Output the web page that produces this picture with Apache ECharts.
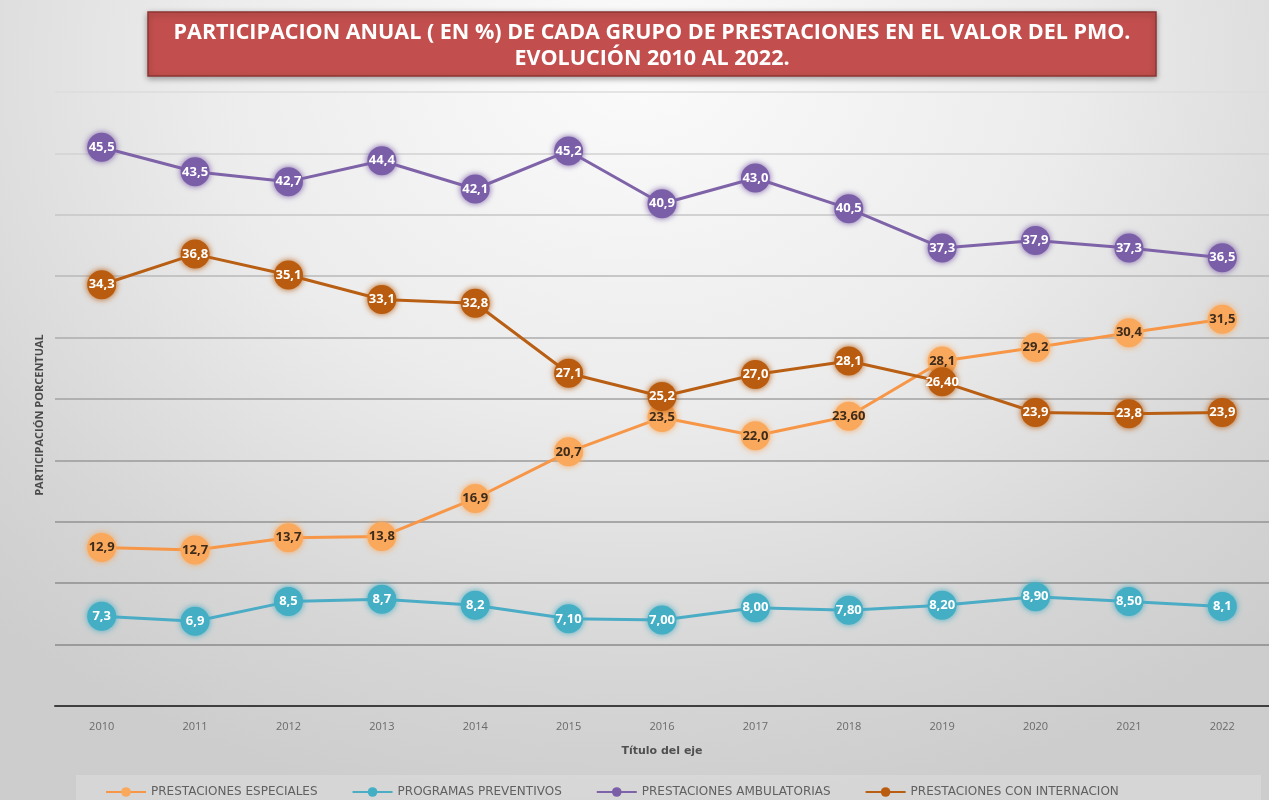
<!DOCTYPE html>
<html>
<head>
<meta charset="utf-8">
<script src="https://cdn.jsdelivr.net/npm/echarts@6/dist/echarts.min.js"></script>
<style>
  html, body { margin: 0; padding: 0; }
  body {
    width: 1269px; height: 800px; overflow: hidden;
    background: radial-gradient(ellipse 75% 95% at 50% 8%, #fbfbfb 0%, #ececec 45%, #d6d6d6 80%, #cdcdcd 100%);
  }
  #chart { width: 1269px; height: 800px; }
</style>
</head>
<body>
<div id="chart"></div>
<script>
// Years on the category axis
const years = ['2010','2011','2012','2013','2014','2015','2016','2017','2018','2019','2020','2021','2022'];

// Annual share (%) of each benefit group in the PMO value
const especiales   = [12.9, 12.7, 13.7, 13.8, 16.9, 20.7, 23.5, 22.0, 23.6, 28.1, 29.2, 30.4, 31.5];
const preventivos  = [7.3, 6.9, 8.5, 8.7, 8.2, 7.1, 7.0, 8.0, 7.8, 8.2, 8.9, 8.5, 8.1];
const ambulatorias = [45.5, 43.5, 42.7, 44.4, 42.1, 45.2, 40.9, 43.0, 40.5, 37.3, 37.9, 37.3, 36.5];
const internacion  = [34.3, 36.8, 35.1, 33.1, 32.8, 27.1, 25.2, 27.0, 28.1, 26.4, 23.9, 23.8, 23.9];

// Decimals shown in each point's label
const decEspeciales   = [1, 1, 1, 1, 1, 1, 1, 1, 2, 1, 1, 1, 1];
const decPreventivos  = [1, 1, 1, 1, 1, 2, 2, 2, 2, 2, 2, 2, 1];
const decAmbulatorias = [1, 1, 1, 1, 1, 1, 1, 1, 1, 1, 1, 1, 1];
const decInternacion  = [1, 1, 1, 1, 1, 1, 1, 1, 1, 2, 1, 1, 1];

const seriesNames = ['PRESTACIONES ESPECIALES', 'PROGRAMAS PREVENTIVOS', 'PRESTACIONES AMBULATORIAS', 'PRESTACIONES CON INTERNACION'];

const labelFont = "'Liberation Sans Narrow', 'Open Sans', 'DejaVu Sans', sans-serif";

function fmt(decimals) {
  return p => p.value.toFixed(decimals[p.dataIndex]).replace('.', ',');
}

function lineSeries(name, data, decimals, color, markerColor, labelColor) {
  return {
    name: name,
    type: 'line',
    data: data,
    symbol: 'circle',
    symbolSize: 29,
    lineStyle: { color: color, width: 3 },
    itemStyle: { color: markerColor, shadowBlur: 6, shadowColor: markerColor },
    label: {
      show: true,
      position: 'inside',
      formatter: fmt(decimals),
      color: labelColor,
      fontSize: 13,
      fontWeight: 'bold',
      fontFamily: labelFont
    },
    emphasis: { disabled: true },
    animation: false
  };
}

const chart = echarts.init(document.getElementById('chart'), null, { renderer: 'canvas' });

chart.setOption({
  backgroundColor: 'transparent',
  color: ['#f79646', '#4bacc6', '#7f63a8', '#b95f14'],
  graphic: [
    {
      type: 'rect',
      shape: { x: 148, y: 12, width: 1008, height: 64 },
      style: { fill: '#c24f4d', stroke: '#8c3532', lineWidth: 1.5, shadowBlur: 6, shadowColor: 'rgba(0,0,0,0.35)', shadowOffsetY: 2 },
      z: 10
    },
    {
      type: 'text',
      x: 652,
      y: 20,
      style: {
        text: 'PARTICIPACION ANUAL ( EN %) DE CADA GRUPO DE PRESTACIONES EN EL VALOR DEL PMO.\nEVOLUCIÓN 2010 AL 2022.',
        fill: '#ffffff',
        font: "bold 21.5px 'Liberation Sans Narrow', 'Open Sans', sans-serif",
        textAlign: 'center',
        textVerticalAlign: 'top',
        lineHeight: 26
      },
      z: 11
    },
    {
      type: 'rect',
      shape: { x: 76, y: 775, width: 1185, height: 25 },
      style: { fill: 'rgba(255,255,255,0.18)' },
      z: 0
    },
    {
      // vertical axis title
      type: 'text',
      x: 40,
      y: 415,
      rotation: Math.PI / 2,
      style: {
        text: 'PARTICIPACIÓN PORCENTUAL',
        fill: '#4a4a4a',
        font: "bold 11px 'Open Sans', 'DejaVu Sans', sans-serif",
        textAlign: 'center',
        textVerticalAlign: 'middle'
      }
    }
  ],
  grid: { left: 55, top: 92, width: 1218, height: 614, containLabel: false },
  xAxis: {
    type: 'category',
    data: years,
    boundaryGap: true,
    axisLine: { show: true, lineStyle: { color: '#3f3f3f', width: 2 } },
    axisTick: { show: false },
    axisLabel: { color: '#6a6a6a', fontSize: 11, margin: 15, fontFamily: "'Open Sans', 'DejaVu Sans', sans-serif" },
    name: 'Título del eje',
    nameLocation: 'middle',
    nameGap: 40,
    nameTextStyle: { color: '#505050', fontSize: 11, fontWeight: 'bold', fontFamily: "'DejaVu Sans', sans-serif" }
  },
  yAxis: {
    type: 'value',
    min: 0,
    max: 50,
    interval: 5,
    axisLine: { show: false },
    axisTick: { show: false },
    axisLabel: { show: false },
    splitLine: {
      show: true,
      lineStyle: {
        width: 1.5,
        color: ['#8a8a8a', '#8a8a8a', '#8e8e8e', '#939393', '#9a9a9a', '#a2a2a2', '#acacac', '#b8b8b8', '#c6c6c6', '#d2d2d2', '#dcdcdc']
      }
    }
  },
  legend: {
    data: seriesNames,
    left: 100,
    top: 781,
    itemGap: 34,
    itemWidth: 40,
    itemHeight: 12,
    textStyle: { color: '#606060', fontSize: 12, fontFamily: "'DejaVu Sans', sans-serif" }
  },
  series: [
    lineSeries(seriesNames[0], especiales, decEspeciales, '#f79646', '#f9a85c', '#3d2b1c'),
    lineSeries(seriesNames[1], preventivos, decPreventivos, '#4bacc6', '#43aec4', '#ffffff'),
    lineSeries(seriesNames[2], ambulatorias, decAmbulatorias, '#7f63a8', '#7b5ea8', '#ffffff'),
    lineSeries(seriesNames[3], internacion, decInternacion, '#b95f14', '#b95c0f', '#ffffff')
  ]
});
</script>
</body>
</html>
